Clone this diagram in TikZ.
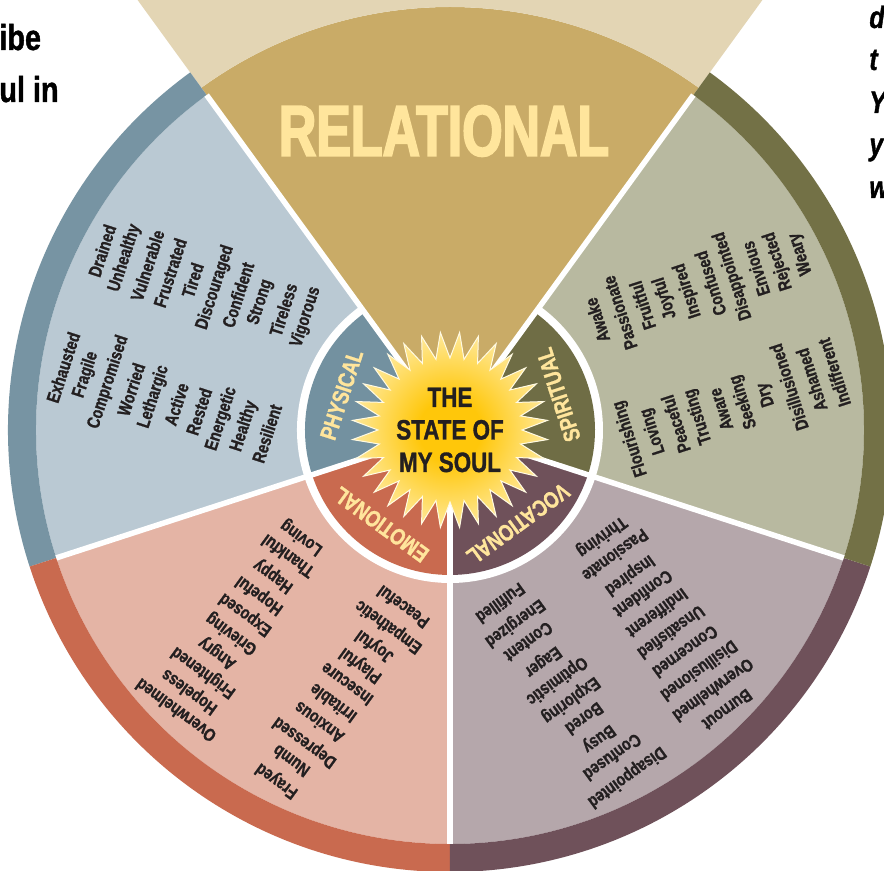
\documentclass[tikz,border=0pt]{standalone}
\usepackage{fontspec}
\setmainfont{Liberation Sans}[FakeStretch=0.8, BoldFeatures={FakeBold=1.2}, BoldItalicFeatures={FakeBold=1.2}]
\newfontfamily\relfont{Liberation Sans}[FakeStretch=0.72, BoldFeatures={FakeBold=2.5}]
\usetikzlibrary{calc}

\definecolor{phyLight}{HTML}{BAC9D3}
\definecolor{phyRing}{HTML}{7794A3}
\definecolor{phyHub}{HTML}{7391A0}
\definecolor{spiLight}{HTML}{B8B9A0}
\definecolor{spiRing}{HTML}{737146}
\definecolor{spiHub}{HTML}{6F6D45}
\definecolor{emoLight}{HTML}{E4B4A5}
\definecolor{emoRing}{HTML}{C96A4F}
\definecolor{vocLight}{HTML}{B5A7AB}
\definecolor{vocRing}{HTML}{6F515A}
\definecolor{relDark}{HTML}{C9AB67}
\definecolor{relLight}{HTML}{E3D5B4}
\definecolor{cream}{HTML}{FFE59C}
\definecolor{ink}{HTML}{231F20}
\definecolor{sunCore}{HTML}{FFC70A}
\definecolor{sunEdge}{HTML}{FFFAE3}

\pgfdeclareradialshading{sunglow}{\pgfpoint{0bp}{0bp}}{color(0bp)=(sunCore); color(8bp)=(sunCore); color(34bp)=(sunEdge); color(50bp)=(sunEdge)}

\def\pieslice[#1](#2:#3:#4){\fill[#1] (0,0) -- (#2:#4) arc (#2:#3:#4) -- cycle;}
\def\ringpiece[#1](#2:#3:#4:#5){\fill[#1] (#2:#4) arc (#2:#3:#4) -- (#3:#5) arc (#3:#2:#5) -- cycle;}
% name, sector angle, text angle, side offset, first radius, words
\newcommand{\wordcol}[6]{%
  \foreach \mood [count=\k from 0] in {#6}
    \node[word, rotate=#3] (#1\k) at ($(#2:{#5+23.8*\k})+({#2+90}:#4)$) {\mood};
}

\tikzset{
  word/.style={font=\bfseries\fontsize{9}{10}\selectfont, text=ink, inner sep=0pt},
  hublabel/.style={font=\bfseries\fontsize{11.5}{13}\selectfont, text=cream, inner sep=0pt},
  divider/.style={white, line width=2.75pt},
  pagetext/.style={font=\bfseries\fontsize{18}{20}\selectfont, text=black, inner sep=0pt, anchor=base west},
  pageitalic/.style={font=\bfseries\itshape\fontsize{15.5}{18}\selectfont, text=black, inner sep=0pt, anchor=base west}
}

\begin{document}
\begin{tikzpicture}[x=0.5pt,y=0.5pt]
  %%%%% FRAME %%%%%
  \useasboundingbox (-450,-441) rectangle (434,430);
  \clip (-450,-441) rectangle (434,430);
  \fill[white] (-450,-441) rectangle (434,430);

  %%%%% SECTORS %%%%%
  \pieslice[phyLight](126:198:414)
  \pieslice[emoLight](198:270:414)
  \pieslice[vocLight](270:342:414)
  \pieslice[spiLight](-18:54:414)
  \pieslice[relDark](54:126:423)
  \ringpiece[relLight](54:126:423:900)

  \ringpiece[phyRing](126:198:414:442)
  \ringpiece[emoRing](198:270:414:442)
  \ringpiece[vocRing](270:342:414:442)
  \ringpiece[spiRing](-18:54:414:442)

  %%%%% HUB %%%%%
  \pieslice[white](126:414:153)
  \pieslice[phyHub](126:198:145)
  \pieslice[emoRing](198:270:145)
  \pieslice[vocRing](270:342:145)
  \pieslice[spiHub](-18:54:145)

  \foreach \a in {54,126,198,270,342}
    \draw[divider] (0,0) -- (\a:414);

  %%%%% SUN %%%%%
  \shadedraw[shading=sunglow, draw=sunEdge, line width=0.5pt] (95.625:98)
    \foreach \i in {0,...,31} { -- ({101.25+\i*11.25}:72) -- ({106.875+\i*11.25}:98) } -- cycle;
  \node[font=\bfseries\fontsize{14}{16.25}\selectfont, text=ink, align=center, inner sep=0pt] (title) at (0,0) {THE\\STATE OF\\MY SOUL};

  %%%%% LABELS %%%%%
  \node[font=\relfont\bfseries\fontsize{36}{40}\selectfont, text=cream, inner sep=0pt] (relational) at (-6,299) {RELATIONAL};
  \node[hublabel, rotate=72] (physical) at (162:114) {PHYSICAL};
  \node[hublabel, rotate=108] (spiritual) at (18:114) {SPIRITUAL};
  \node[hublabel, rotate=144] (emotional) at (234:117) {EMOTIONAL};
  \node[hublabel, rotate=216] (vocational) at (306:116) {VOCATIONAL};

  %%%%% WORDS %%%%%
  \wordcol{phyA}{162}{72}{-63}{172}{Vigorous, Tireless, Strong, Confident, Discouraged, Tired, Frustrated, Vulnerable, Unhealthy, Drained}
  \wordcol{phyB}{162}{72}{60}{173}{Resilient, Healthy, Energetic, Rested, Active, Lethargic, Worried, Compromised, Fragile, Exhausted}
  \wordcol{spiA}{18}{108}{59}{174}{Awake, Passionate, Fruitful, Joyful, Inspired, Confused, Disappointed, Envious, Rejected, Weary}
  \wordcol{spiB}{18}{108}{-64}{169}{Flourishing, Loving, Peaceful, Trusting, Aware, Seeking, Dry, Disillusioned, Ashamed, Indifferent}
  \wordcol{emoA}{234}{144}{-57}{174}{Loving, Thankful, Happy, Hopeful, Exposed, Grieving, Angry, Frightened, Hopeless, Overwhelmed}
  \wordcol{emoB}{234}{144}{66}{171}{Peaceful, Empathetic, Joyful, Playful, Insecure, Irritable, Anxious, Depressed, Numb, Frayed}
  \wordcol{vocA}{306}{216}{-61}{170}{Fulfilled, Energized, Content, Eager, Optimistic, Exploring, Bored, Busy, Confused, Disappointed}
  \wordcol{vocB}{306}{216}{60}{175}{Thriving, Passionate, Inspired, Confident, Indifferent, Unsatisfied, Concerned, Disillusioned, Overwhelmed, Burnout}

  %%%%% PAGE TEXT %%%%%
  \node[pagetext] (leftA) at (-451,380) {ibe};
  \node[pagetext] (leftB) at (-451,328) {ul in};
  \node[pageitalic] (rightA) at (419,402) {d};
  \node[pageitalic] (rightB) at (419,360) {t};
  \node[pageitalic] (rightC) at (419,317) {Y};
  \node[pageitalic] (rightD) at (419,275) {y};
  \node[pageitalic] (rightE) at (419,232) {w};
\end{tikzpicture}
\end{document}
